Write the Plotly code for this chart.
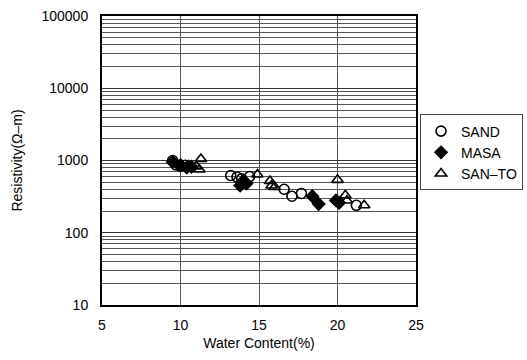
import plotly.graph_objects as go

sand_x = [9.5, 9.7, 10.0, 10.3, 13.2, 13.6, 13.9, 14.4, 16.6, 17.1, 17.7, 21.2]
sand_y = [1000, 870, 830, 860, 620, 590, 560, 600, 400, 320, 350, 240]
masa_x = [9.5, 10.0, 10.4, 10.7, 13.8, 14.0, 14.2, 18.4, 18.8, 19.9, 20.1]
masa_y = [950, 860, 800, 820, 450, 520, 480, 320, 250, 280, 260]
santo_x = [10.5, 11.0, 11.3, 11.2, 14.9, 15.7, 15.8, 16.0, 20.0, 20.5, 20.6, 21.7]
santo_y = [850, 830, 1050, 750, 640, 520, 450, 430, 540, 330, 280, 240]

x_ticks = [5, 10, 15, 20, 25]
y_ticks = [10, 100, 1000, 10000, 100000]

font = "Liberation Sans, Arial, sans-serif"

fig = go.Figure()
fig.add_trace(go.Scatter(x=sand_x, y=sand_y, mode="markers", name="SAND",
                         marker=dict(symbol="circle-open", size=10, color="black",
                                     line=dict(width=1.6, color="black"))))
fig.add_trace(go.Scatter(x=masa_x, y=masa_y, mode="markers", name="MASA",
                         marker=dict(symbol="diamond", size=11, color="black")))
fig.add_trace(go.Scatter(x=santo_x, y=santo_y, mode="markers", name="SAN\u2013TO",
                         marker=dict(symbol="triangle-up-open", size=10, color="black",
                                     line=dict(width=1.6, color="black"))))

fig.update_layout(
    width=527, height=360,
    margin=dict(l=102, r=111, t=16, b=55, autoexpand=False),
    paper_bgcolor="white", plot_bgcolor="white",
    font=dict(family=font, size=14, color="black"),
    showlegend=True,
    legend=dict(xref="container", yref="container", x=0.797, y=0.682,
                xanchor="left", yanchor="top",
                bordercolor="#444", borderwidth=1, bgcolor="white",
                font=dict(size=14), itemwidth=30, tracegroupgap=0),
)
fig.update_xaxes(range=[5, 25], tickvals=x_ticks, ticktext=[str(v) for v in x_ticks],
                 showgrid=True, gridcolor="#555", gridwidth=1,
                 showline=True, linecolor="black", linewidth=2, mirror=True,
                 ticks="", zeroline=False, ticklabelstandoff=6,
                 title=dict(text="Water Content(%)", font=dict(size=14), standoff=6))
fig.update_yaxes(type="log", range=[1, 5], tickvals=y_ticks, ticktext=[str(v) for v in y_ticks],
                 showgrid=True, gridcolor="#333", gridwidth=1,
                 minor=dict(showgrid=True, dtick="D1", gridcolor="#555", gridwidth=1, ticks=""),
                 showline=True, linecolor="black", linewidth=2, mirror=True,
                 ticks="", zeroline=False, ticklabelstandoff=9,
                 title=dict(text="Resistivity(\u03a9\u2013m)", font=dict(size=14), standoff=16))

fig.write_html("out.html")
